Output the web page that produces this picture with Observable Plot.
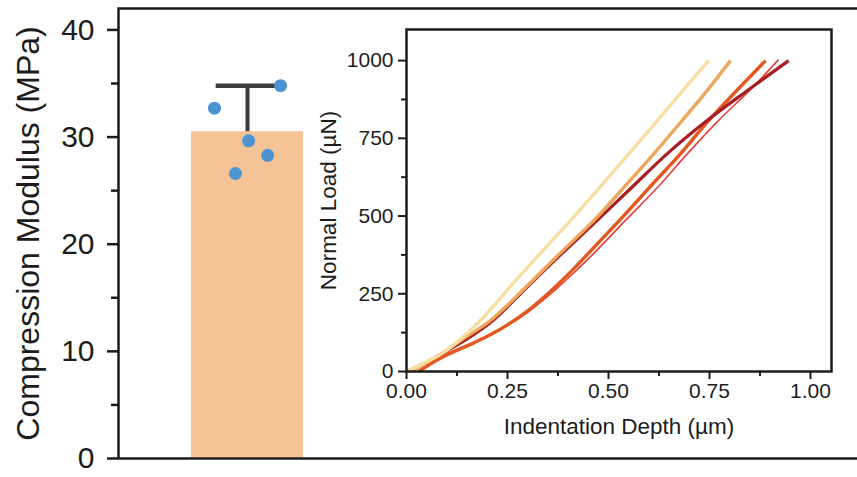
<!DOCTYPE html>
<html>
<head>
<meta charset="utf-8">
<script src="https://cdn.jsdelivr.net/npm/d3@7"></script>
<script src="https://cdn.jsdelivr.net/npm/@observablehq/plot@0.6"></script>
<style>
  html, body { margin: 0; padding: 0; background: #fff; }
  #wrap { position: relative; width: 857px; height: 477px; overflow: hidden; }
  #wrap svg { position: absolute; max-width: none; }
</style>
</head>
<body>
<div id="wrap"></div>
<script>
// ---------- main bar chart data ----------
const groups = ["Hydrogel"];
const groupIndex = [0];
const modulusMean = [30.5];
const modulusSD = [4.3];
const replicateValues = [32.7, 34.8, 29.65, 28.3, 26.6];
const replicateJitter = [-0.295, 0.295, 0.01, 0.18, -0.107];
const modulusTicks = [0, 10, 20, 30, 40];
const modulusMinorTicks = [5, 15, 25, 35];
const modulusLabel = ["Compression Modulus (MPa)"];

// ---------- inset load-depth curves ----------
const curveNames = ["Sample 1", "Sample 2", "Sample 3", "Sample 4", "Sample 5"];
const curveColors = ["#e8403c", "#e2581f", "#a91e22", "#eca75c", "#f7dfa2"];
const curveWidths = [1.6, 3.4, 3.2, 3.4, 3.4];
const depth1 = [0, 0.05, 0.10, 0.15, 0.20, 0.25, 0.30, 0.35, 0.40, 0.46, 0.542, 0.62, 0.695, 0.772, 0.85, 0.921];
const load1  = [0, 30, 58, 85, 113, 148, 190, 242, 300, 375, 486, 590, 700, 807, 905, 1003];
const depth2 = [0.03, 0.08, 0.12, 0.16, 0.20, 0.25, 0.30, 0.35, 0.40, 0.45, 0.53, 0.60, 0.678, 0.748, 0.889];
const load2  = [0, 40, 65, 88, 113, 150, 195, 250, 312, 380, 490, 590, 700, 807, 1000];
const depth3 = [0, 0.05, 0.084, 0.15, 0.214, 0.298, 0.385, 0.472, 0.56, 0.645, 0.744, 0.843, 0.946];
const load3  = [0, 30, 55, 105, 164, 271, 380, 486, 595, 700, 807, 903, 1000];
const depth4 = [0.01, 0.05, 0.084, 0.14, 0.208, 0.295, 0.38, 0.464, 0.54, 0.612, 0.682, 0.74, 0.802];
const load4  = [0, 30, 55, 105, 164, 271, 380, 486, 595, 700, 807, 897, 1000];
const depth5 = [0, 0.04, 0.084, 0.13, 0.183, 0.225, 0.265, 0.33, 0.406, 0.48, 0.55, 0.621, 0.685, 0.748];
const load5  = [0, 25, 55, 100, 164, 225, 285, 378, 486, 595, 700, 807, 905, 1000];
const depthTicks = [0, 0.25, 0.5, 0.75, 1.0];
const depthMinorTicks = [0.125, 0.375, 0.625, 0.875];
const loadTicks = [0, 250, 500, 750, 1000];
const loadMinorTicks = [125, 375, 625, 875];
const depthLabel = ["Indentation Depth (µm)"];
const loadLabel = ["Normal Load (µN)"];

const font = "'Liberation Sans', Arial, Helvetica, sans-serif";
const ink = "#1c1c1c";

const bars = groups.map((g, i) => ({group: g, pos: groupIndex[i], mean: modulusMean[i], sd: modulusSD[i]}));
const points = replicateValues.map((v, j) => ({pos: groupIndex[0] + replicateJitter[j], value: v}));

const main = Plot.plot({
  width: 857,
  height: 477,
  marginLeft: 118,
  marginRight: -6,
  marginTop: 8,
  marginBottom: 19,
  style: {fontFamily: font, fontSize: "30px", color: ink, background: "transparent"},
  x: {domain: [-1.152, 5.5], axis: null},
  y: {domain: [0, 42], axis: null},
  marks: [
    Plot.rectY(bars, {x1: d => d.pos - 0.5, x2: d => d.pos + 0.5, y1: 0, y2: "mean", fill: "#f5c396"}),
    Plot.ruleX(bars, {x: "pos", y1: "mean", y2: d => d.mean + d.sd, stroke: "#3c3c3c", strokeWidth: 4}),
    Plot.ruleY(bars, {x1: d => d.pos - 0.28, x2: d => d.pos + 0.28, y: d => d.mean + d.sd, stroke: "#3c3c3c", strokeWidth: 4.5}),
    Plot.dot(points, {x: "pos", y: "value", r: 6.5, fill: "#4b93d1", stroke: "none"}),
    Plot.axisY({ticks: modulusTicks, tickSize: 11, tickPadding: 13, strokeWidth: 2.5, label: null, fontSize: 30}),
    Plot.axisY({ticks: modulusMinorTicks, tickSize: 7, strokeWidth: 2.5, tickFormat: () => "", label: null}),
    Plot.text(modulusLabel, {text: d => d, frameAnchor: "left", rotate: -90, textAnchor: "middle",
      lineAnchor: "middle", dx: -89.5, fontSize: 32, fill: ink}),
    Plot.frame({stroke: ink, strokeWidth: 2.5})
  ]
});
main.style.left = "0px";
main.style.top = "0px";

const insetLeft = 300, insetTop = 0, insetW = 550, insetH = 460;
const curveMarks = [];
const depths = [depth1, depth2, depth3, depth4, depth5];
const loads = [load1, load2, load3, load4, load5];
depths.forEach((dx, k) => {
  const rows = dx.map((x, i) => ({name: curveNames[k], depth: x, load: loads[k][i]}));
  curveMarks.push(Plot.line(rows, {x: "depth", y: "load", stroke: curveColors[k], strokeWidth: curveWidths[k],
    strokeLinecap: "butt", strokeLinejoin: "round", curve: "catmull-rom"}));
});

const inset = Plot.plot({
  width: insetW,
  height: insetH,
  marginLeft: 406 - insetLeft,
  marginRight: insetW - (831 - insetLeft),
  marginTop: 29 - insetTop,
  marginBottom: insetH - (371 - insetTop),
  style: {fontFamily: font, fontSize: "21px", color: ink, background: "transparent"},
  x: {domain: [0, 1.052], axis: null},
  y: {domain: [0, 1100], axis: null},
  marks: [
    Plot.frame({fill: "white", stroke: "none"}),
    ...curveMarks,
    Plot.axisX({ticks: depthTicks, tickFormat: ".2f", tickSize: 8, tickPadding: 4, strokeWidth: 2, label: null, fontSize: 21}),
    Plot.axisX({ticks: depthMinorTicks, tickSize: 5, strokeWidth: 2, tickFormat: () => "", label: null}),
    Plot.axisY({ticks: loadTicks, tickFormat: "d", tickSize: 8, tickPadding: 5, strokeWidth: 2, label: null, fontSize: 21}),
    Plot.axisY({ticks: loadMinorTicks, tickSize: 5, strokeWidth: 2, tickFormat: () => "", label: null}),
    Plot.text(depthLabel, {text: d => d, frameAnchor: "bottom", textAnchor: "middle", lineAnchor: "middle",
      dy: 55, fontSize: 22.5, fill: ink}),
    Plot.text(loadLabel, {text: d => d, frameAnchor: "left", rotate: -90, textAnchor: "middle", lineAnchor: "middle",
      dx: -77.5, fontSize: 22.5, fill: ink}),
    Plot.frame({stroke: ink, strokeWidth: 2.5})
  ]
});
inset.style.left = insetLeft + "px";
inset.style.top = insetTop + "px";

const wrap = document.getElementById("wrap");
wrap.appendChild(main);
wrap.appendChild(inset);
</script>
</body>
</html>
